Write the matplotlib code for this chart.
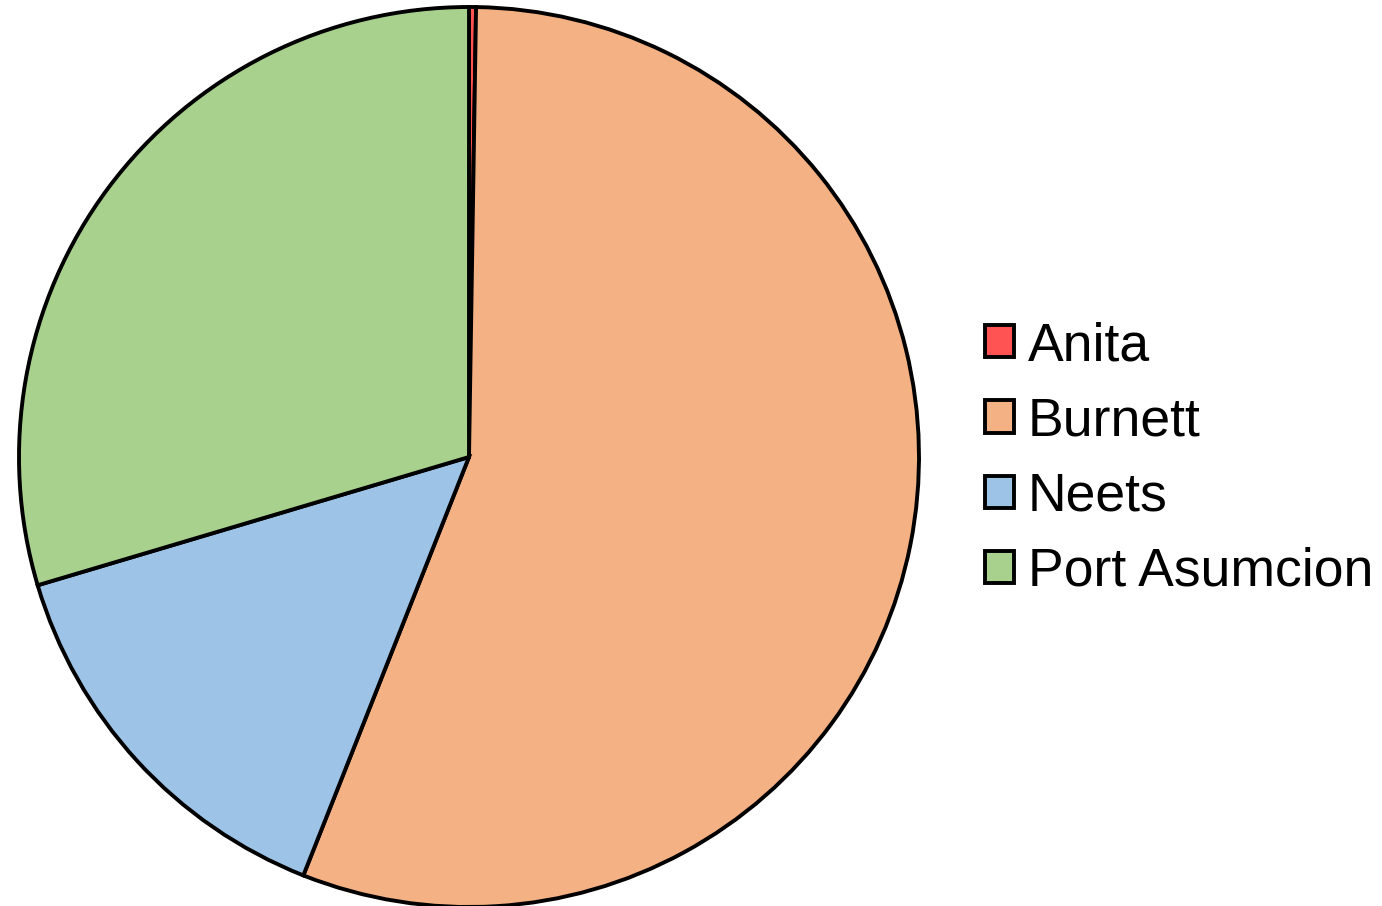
import matplotlib
matplotlib.use("Agg")
import matplotlib.pyplot as plt
from matplotlib.patches import Patch

plt.rcParams['font.family'] = ['Liberation Sans', 'DejaVu Sans']

labels = ["Anita", "Burnett", "Neets", "Port Asumcion"]
values = [0.25, 55.75, 14.4, 29.6]
colors = ["#FF5252", "#F4B183", "#9DC3E6", "#A9D18E"]

W, H = 1382, 906
fig = plt.figure(figsize=(W / 100, H / 100), dpi=100)
# pie centre (469, 457), radius ~450 px
ax = fig.add_axes([(469 - 450) / W, (H - 457 - 450) / H, 900 / W, 900 / H])
ax.pie(values, colors=colors, startangle=90, counterclock=False,
       wedgeprops=dict(edgecolor="black", linewidth=2.8))
ax.set_xlim(-1.0, 1.0)
ax.set_ylim(-1.0, 1.0)
ax.set_aspect("equal")
ax.axis("off")

handles = [Patch(facecolor=c, edgecolor="black", linewidth=2.8) for c in colors]
fig.legend(handles, labels, loc="center left",
           bbox_to_anchor=(985 / W, (H - 459) / H),
           frameon=False, fontsize=38.5, borderpad=0, borderaxespad=0,
           handlelength=0.55, handleheight=0.55, handletextpad=0.25,
           labelspacing=0.47)

fig.savefig("out.png", dpi=100)
